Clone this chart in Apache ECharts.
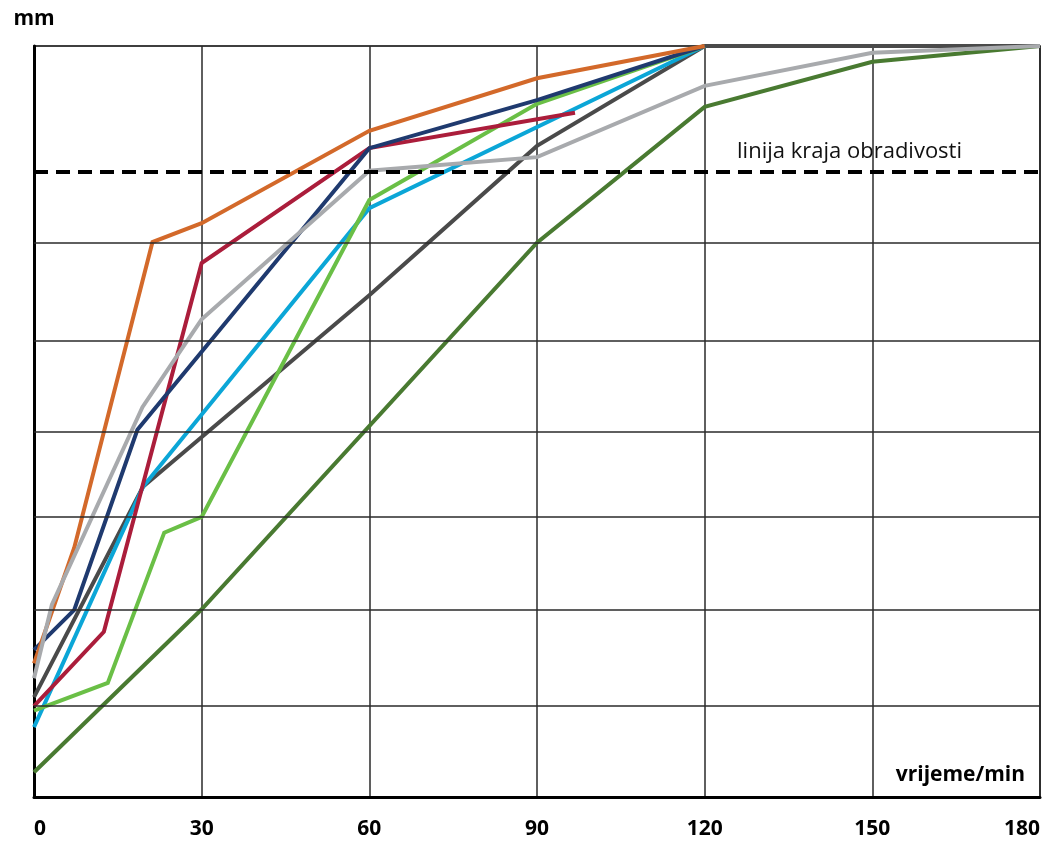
<!DOCTYPE html>
<html><head><meta charset="utf-8">
<script src="https://cdn.jsdelivr.net/npm/echarts@6/dist/echarts.min.js"></script>
<style>html,body{margin:0;padding:0;background:#fff}#c{width:1048px;height:843px}</style>
</head><body><div id="c"></div>
<script>
// x: time in minutes, y: depth (mm, axis unlabelled in the source)
const xTicks = [0, 30, 60, 90, 120, 150, 180];
const yGridLines = [12.1, 25.0, 37.3, 48.6, 60.7, 73.8];
const limitValue = 83.2;
const limitLabel = 'linija kraja obradivosti';
const yTitle = 'mm';
const xTitle = 'vrijeme/min';

const darkGreenLine  = [[0, 3.3], [30, 25.0], [90, 73.8], [120, 91.9], [150, 97.9], [180, 100]];
const darkGrayLine   = [[0, 13.3], [19.5, 41.3], [60, 66.8], [90, 86.7], [120, 100], [150, 100], [180, 100]];
const cyanLine       = [[0, 9.3], [19.5, 41.3], [60, 78.4], [120, 100]];
const lightGreenLine = [[0, 11.5], [13.2, 15.2], [23.3, 35.2], [30, 37.3], [60, 79.5], [90, 92.3], [120, 100]];
const crimsonLine    = [[0, 12.1], [12.5, 22.0], [30, 71.1], [60, 86.4], [96.8, 91.1]];
const navyLine       = [[0, 19.6], [7.2, 24.9], [18.5, 48.9], [60, 86.4], [90, 92.8], [120, 100]];
const orangeLine     = [[0, 17.8], [7.2, 33.2], [21.2, 73.9], [30, 76.4], [60, 88.7], [90, 95.7], [120, 100]];
const lightGrayLine  = [[0, 15.8], [3.2, 25.6], [19.4, 51.9], [30, 63.6], [60, 83.4], [90, 85.2], [120, 94.7], [150, 99.1], [180, 100]];

const lines = [
  ['tamnozelena', darkGreenLine, '#497A31'],
  ['tamnosiva', darkGrayLine, '#4A4A4A'],
  ['cijan', cyanLine, '#0BA6D7'],
  ['svijetlozelena', lightGreenLine, '#6ABF46'],
  ['crvena', crimsonLine, '#AB1D3B'],
  ['plava', navyLine, '#1F3A6F'],
  ['narančasta', orangeLine, '#D3692A'],
  ['svijetlosiva', lightGrayLine, '#A8AAAD']
];

const FONT = '"Open Sans", "Noto Sans", sans-serif';
const chart = echarts.init(document.getElementById('c'), null, {renderer: 'canvas'});

const series = lines.map(([name, data, color]) => ({
  name, type: 'line', data, showSymbol: false, symbol: 'none', clip: false,
  lineStyle: {color, width: 4, join: 'miter'}, itemStyle: {color},
  emphasis: {disabled: true}, animation: false
}));

// grid lines + limit line
series.push({
  type: 'line', data: [], silent: true, animation: false,
  markLine: {
    symbol: 'none', silent: true, animation: false,
    label: {show: false},
    lineStyle: {color: '#2a2a2a', width: 1.5, type: 'solid'},
    data: yGridLines.map(v => ({yAxis: v}))
  }
});
series.push({
  type: 'line', data: [], silent: true, animation: false, z: 5,
  markLine: {
    symbol: 'none', silent: true, animation: false,
    lineStyle: {color: '#000', width: 4, type: [14, 8]},
    label: {
      show: true, position: 'insideEndTop', formatter: limitLabel,
      distance: [78, 9], color: '#111', fontFamily: FONT, fontSize: 22
    },
    data: [{yAxis: limitValue}]
  }
});

chart.setOption({
  animation: false,
  backgroundColor: '#fff',
  grid: {left: 34, right: 8, top: 46, bottom: 46, show: true, borderColor: '#000', borderWidth: 1.5},
  xAxis: {
    type: 'value', min: xTicks[0], max: xTicks[xTicks.length - 1], interval: 30,
    axisLine: {show: true, lineStyle: {color: '#000', width: 3}},
    axisTick: {show: false},
    splitLine: {show: true, lineStyle: {color: '#2a2a2a', width: 1.5}},
    axisLabel: {
      color: '#000', fontFamily: FONT, fontWeight: 'bold', fontSize: 21, margin: 22,
      alignMinLabel: 'left', alignMaxLabel: 'right'
    }
  },
  yAxis: {
    type: 'value', min: 0, max: 100,
    name: yTitle, nameLocation: 'end', nameGap: 16,
    nameTextStyle: {color: '#000', fontFamily: FONT, fontWeight: 'bold', fontSize: 21, align: 'center'},
    axisLine: {show: true, lineStyle: {color: '#000', width: 3}},
    axisTick: {show: false},
    axisLabel: {show: false},
    splitLine: {show: false}
  },
  graphic: [{
    type: 'text', x: 1025, y: 775,
    style: {text: xTitle, align: 'right', verticalAlign: 'middle', fill: '#000',
      font: 'bold 21px "Open Sans", "Noto Sans", sans-serif'}
  }],
  series
});
</script>
</body></html>
